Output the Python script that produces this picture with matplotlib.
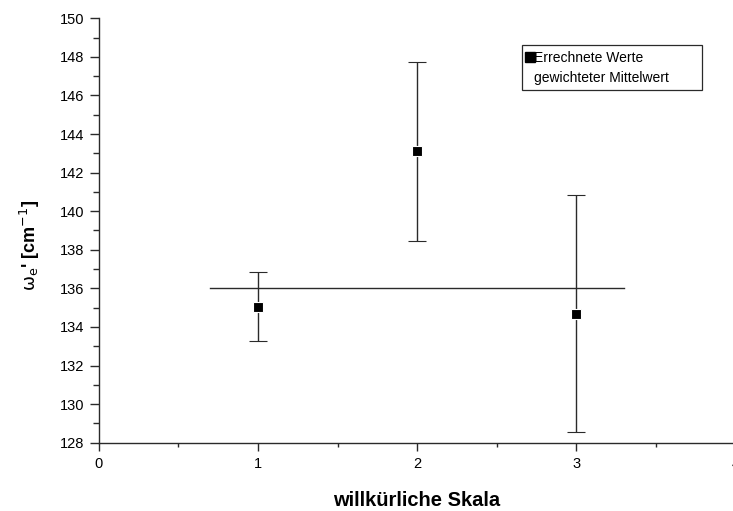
import matplotlib
matplotlib.use("Agg")
import matplotlib.pyplot as plt
from matplotlib.lines import Line2D
from matplotlib.ticker import MultipleLocator

plt.rcParams['font.family'] = ['Liberation Sans', 'DejaVu Sans']

# data
x_vals = [1, 2, 3]
omega = [135.05, 143.1, 134.68]
omega_err = [1.8, 4.62, 6.15]
mean_x = [0.7, 3.3]
mean_val = [136.03, 136.03]

legend_labels = ["Errechnete Werte", "gewichteter Mittelwert"]

fig = plt.figure(figsize=(7.33, 5.11), dpi=100)
# axes run slightly past the right edge, like the cropped original
ax = fig.add_axes([0.135, 0.1337, 0.868, 0.8305])

col = '#2a2a2a'
ax.errorbar(x_vals, omega, yerr=omega_err, fmt='s', color='black', ecolor=col,
            elinewidth=1.0, capsize=6.5, capthick=1.0, markersize=7,
            markeredgecolor='white', markeredgewidth=0.8)
ax.plot(mean_x, mean_val, color=col, lw=1.0)

ax.set_xlim(0, 4)
ax.set_ylim(128, 150)
ax.xaxis.set_major_locator(MultipleLocator(1))
ax.xaxis.set_minor_locator(MultipleLocator(0.5))
ax.yaxis.set_major_locator(MultipleLocator(2))
ax.yaxis.set_minor_locator(MultipleLocator(1))

for s in ['top', 'right']:
    ax.spines[s].set_visible(False)
for s in ['left', 'bottom']:
    ax.spines[s].set_color(col)
    ax.spines[s].set_linewidth(1.0)

ax.tick_params(which='both', direction='out', width=1.0, color=col)
ax.tick_params(axis='y', which='major', length=6.5, pad=4, labelsize=10.5)
ax.tick_params(axis='y', which='minor', length=4.3)
ax.tick_params(axis='x', which='major', length=6, pad=4, labelsize=10.5)
ax.tick_params(axis='x', which='minor', length=3)

ax.set_xlabel("willkürliche Skala", fontsize=14.5, fontweight='bold', labelpad=15)
fig.text(0.041, 0.52, r"$\mathrm{\omega}_\mathrm{e}$' [cm$^{-1}$]", rotation=90,
         fontsize=13, fontweight='bold', ha='center', va='center')

handles = [Line2D([], [], marker='s', color='black', ls='none', markersize=6.5),
           Line2D([], [], color='none')]
leg = ax.legend(handles, legend_labels, loc='upper left',
                bbox_to_anchor=(0.665, 0.826, 0.283, 0.111), mode='expand',
                fontsize=10, frameon=True, fancybox=False, edgecolor=col,
                framealpha=1, handlelength=0.3, handletextpad=0.15,
                borderpad=0.4, borderaxespad=0, labelspacing=0.45)
leg.get_frame().set_linewidth(0.9)

fig.savefig("out.png", dpi=100)
